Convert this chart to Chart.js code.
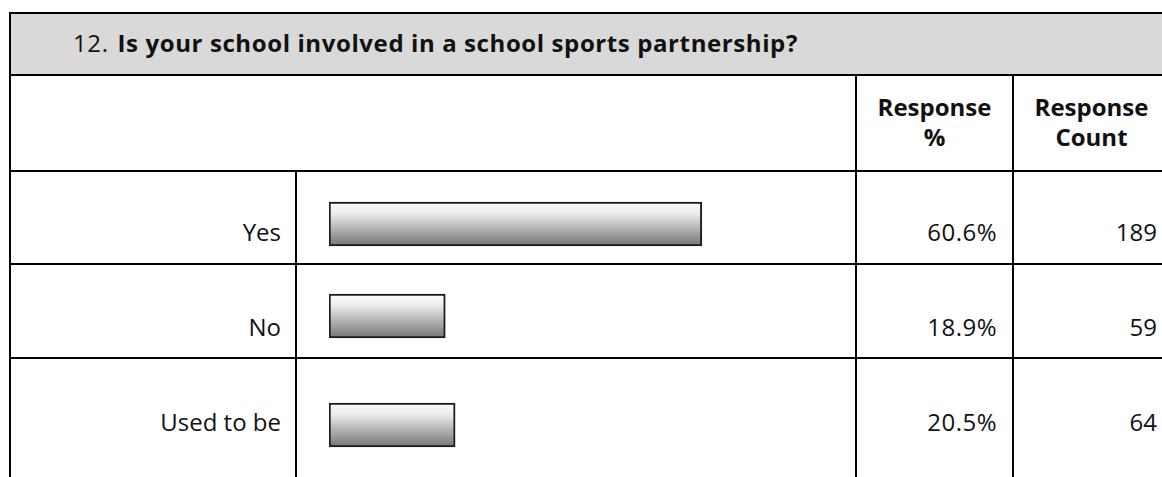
<!DOCTYPE html>
<html>
<head>
<meta charset="utf-8">
<title>Q12 - school sports partnership</title>
<script src="https://cdn.jsdelivr.net/npm/chart.js@4.4.1/dist/chart.umd.min.js"></script>
<style>
  html, body { margin: 0; padding: 0; background: #fff; }
  body {
    width: 1162px; height: 477px; overflow: hidden; position: relative;
    font-family: "Open Sans", "DejaVu Sans", sans-serif; color: #111;
  }
  .ln { position: absolute; background: #000; }
  .band { position: absolute; left: 11px; top: 14px; width: 1200px; height: 60px; background: #d9d9d9; }
  .txt { position: absolute; white-space: nowrap; font-size: 24px; line-height: 30px; }
  .title { left: 73px; top: 28px; font-size: 24px; letter-spacing: 0.6px; }
  .title b { margin-left: 9px; }
  .head { font-weight: bold; text-align: center; width: 155px; top: 92px; }
  .lbl { left: 20px; width: 261px; text-align: right; }
  .pct { left: 857px; width: 140px; text-align: right; letter-spacing: 0.5px; }
  .cnt { left: 1014px; width: 143px; text-align: right; }
  .barbox { position: absolute; left: 297px; width: 558px; height: 86px; }
</style>
</head>
<body>
<div class="band"></div>
<div id="frame"></div>
<div class="txt title"><span id="qno"></span><b id="qtext"></b></div>
<div id="rows"></div>

<script>
// --- data ---
const questionNo = '12.';
const questionText = 'Is your school involved in a school sports partnership?';
const columnHeads = [['Response', '%'], ['Response', 'Count']];
const answers = ['Yes', 'No', 'Used to be'];
const responsePct = [60.6, 18.9, 20.5];
const responseCount = [189, 59, 64];

// --- layout (pixels) ---
const rowLines = [170, 263, 357];      // horizontal rules of the body rows
const textMid = [232, 327, 422];       // vertical centre of each row's text
const barMid = [224, 316, 425];        // vertical centre of each bar
const pctMax = 85.5;                   // % at the right edge of the bar cell

document.getElementById('qno').innerText = questionNo;
document.getElementById('qtext').innerText = questionText;

// rules of the table
const frame = document.getElementById('frame');
function rule(x, y, w, h) {
    const d = document.createElement('div');
    d.className = 'ln';
    d.style.cssText = `left:${x}px;top:${y}px;width:${w}px;height:${h}px`;
    frame.appendChild(d);
}
rule(9, 12, 1200, 2);     // top
rule(9, 74, 1200, 2);     // under the question band
rule(9, 12, 2, 470);      // left side
rowLines.forEach(y => rule(9, y, 1200, 2));
rule(855, 76, 2, 420);
rule(1012, 76, 2, 420);
rule(295, 171, 2, 320);

// column heads
const rows = document.getElementById('rows');
[857, 1014].forEach((x, i) => {
    const h = document.createElement('div');
    h.className = 'txt head';
    h.style.left = x + 'px';
    h.innerHTML = columnHeads[i].join('<br>');
    rows.appendChild(h);
});

// one small bar chart per answer row
Chart.defaults.font.family = '"Open Sans", sans-serif';

answers.forEach((a, i) => {
    const top = (textMid[i] - 15) + 'px';
    rows.insertAdjacentHTML('beforeend',
        `<div class="txt lbl" style="top:${top}">${a}</div>` +
        `<div class="txt pct" style="top:${top}">${responsePct[i].toFixed(1)}%</div>` +
        `<div class="txt cnt" style="top:${top}">${responseCount[i]}</div>`);

    const box = document.createElement('div');
    box.className = 'barbox';
    box.style.top = (barMid[i] - 43) + 'px';
    const cv = document.createElement('canvas');
    box.appendChild(cv);
    rows.appendChild(box);

    new Chart(cv.getContext('2d'), {
        type: 'bar',
        data: {
            labels: [a],
            datasets: [{
                data: [responsePct[i]],
                backgroundColor: function(ctx) {
                    const area = ctx.chart.chartArea;
                    if (!area) return '#bbbbbb';
                    const mid = (area.top + area.bottom) / 2;
                    const g = ctx.chart.ctx.createLinearGradient(0, mid - 22, 0, mid + 22);
                    g.addColorStop(0, '#fbfcfc');
                    g.addColorStop(0.25, '#eceded');
                    g.addColorStop(0.6, '#b4b4b4');
                    g.addColorStop(1, '#747474');
                    return g;
                },
                borderColor: '#1c1c1c',
                borderWidth: 2,
                borderSkipped: false,
                barThickness: 44
            }]
        },
        options: {
            indexAxis: 'y',
            responsive: true,
            maintainAspectRatio: false,
            animation: false,
            layout: { padding: { left: 32, right: 0, top: 0, bottom: 0 } },
            scales: {
                x: { display: false, min: 0, max: pctMax },
                y: { display: false }
            },
            plugins: { legend: { display: false }, tooltip: { enabled: false } }
        }
    });
});
</script>
</body>
</html>
